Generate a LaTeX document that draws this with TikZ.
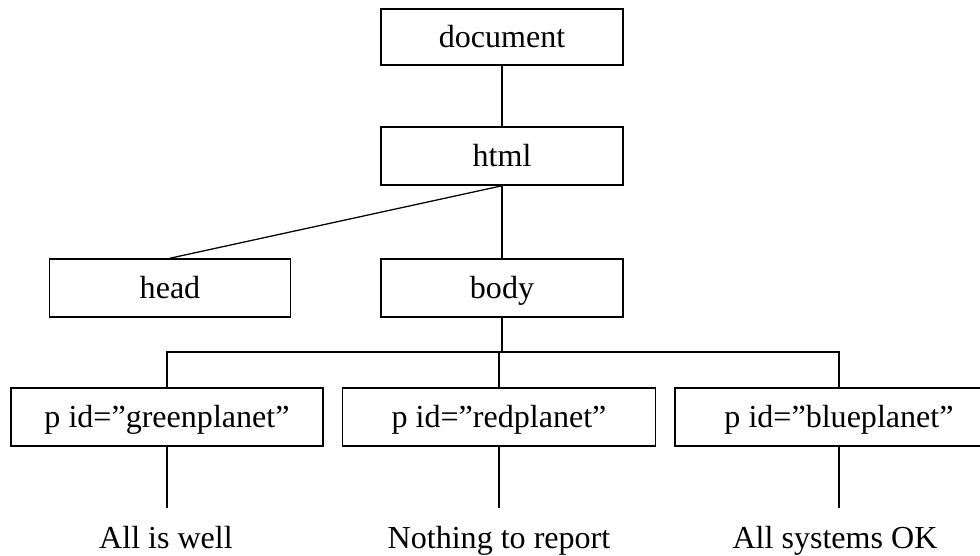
\documentclass[tikz,border=0pt]{standalone}
\usepackage{fontspec}
\setmainfont{Liberation Serif}
\begin{document}
\begin{tikzpicture}[x=0.025cm, y=-0.025cm,
    tag/.style={draw, line width=1.1pt, minimum height=1.45cm, inner sep=0pt, text height=0.55cm, text depth=0.025cm, font=\fontsize{22.8}{27}\selectfont},
    msg/.style={anchor=base, inner xsep=0pt, inner ysep=0.425cm, font=\fontsize{22.8}{27}\selectfont},
    link/.style={line width=0.9pt}]
    \useasboundingbox (0,0) rectangle (980,556);
    % Root and html
    \node[tag, minimum width=6.05cm, minimum height=1.4cm] (document) at (502,37) {document};
    \node[tag, minimum width=6.05cm] (html) at (502,156) {html};
    % Children of html
    \node[tag, minimum width=6.025cm] (head) at (170,288) {head};
    \node[tag, minimum width=6.05cm] (body) at (502,288) {body};
    % Paragraphs
    \node[tag, minimum width=7.8cm] (green) at (167,417) {p id=”greenplanet”};
    \node[tag, minimum width=7.825cm] (red) at (499,417) {p id=”redplanet”};
    \node[tag, minimum width=8.2cm] (blue) at (839,417) {p id=”blueplanet”};
    % Text contents
    \node[msg] (well) at (166,548) {All is well};
    \node[msg] (report) at (499,548) {Nothing to report};
    \node[msg] (systems) at (835,548) {All systems OK};
    \coordinate (bus) at (502,352);
    % Connectors
    \draw[link] (document) -- (html);
    \draw[link] (html.south) -- (head.north);
    \draw[link] (html) -- (body);
    \draw[link] (body) -- (bus);
    \draw[link] (green.north) |- (bus) -| (blue.north);
    \draw[link] (red.north) -- (red.north |- bus);
    \draw[link] (green.south) -- (green.south |- well.north);
    \draw[link] (red.south) -- (red.south |- report.north);
    \draw[link] (blue.south) -- (blue.south |- systems.north);
\end{tikzpicture}
\end{document}
